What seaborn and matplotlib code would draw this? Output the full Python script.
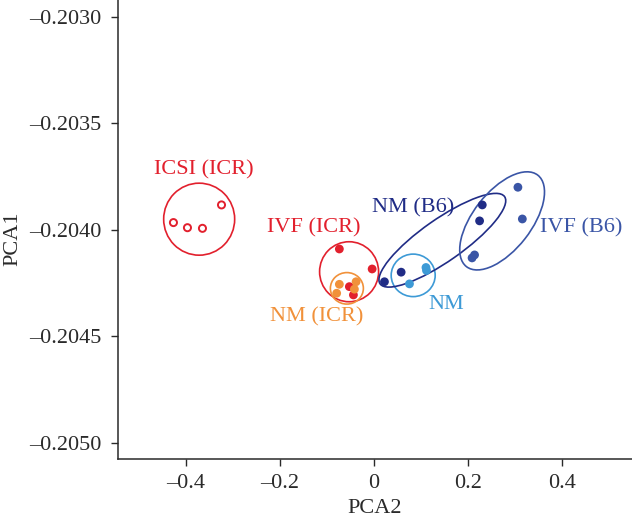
import matplotlib
matplotlib.use("Agg")
import matplotlib.pyplot as plt
import matplotlib.transforms as mtransforms
from matplotlib.patches import Ellipse
import numpy as np
import pandas as pd
import seaborn as sns

# PCA scores (PCA2 on x, PCA1 on y)
icsi_icr_x = [-0.4261, -0.3963, -0.3644, -0.3239]
icsi_icr_y = [-0.203966, -0.203990, -0.203993, -0.203883]

ivf_icr_x = [-0.0733, -0.0036, -0.0520, -0.0434]
ivf_icr_y = [-0.204090, -0.204184, -0.204267, -0.204306]

nm_icr_x = [-0.0733, -0.0790, -0.0377, -0.0413]
nm_icr_y = [-0.204256, -0.204298, -0.204244, -0.204279]

nm_b6_x = [0.0226, 0.0581, 0.2306, 0.2249]
nm_b6_y = [-0.204244, -0.204199, -0.203883, -0.203958]

nm_x = [0.1109, 0.1120, 0.0758]
nm_y = [-0.204177, -0.204191, -0.204254]

ivf_b6_x = [0.3064, 0.3158, 0.2089, 0.2142]
ivf_b6_y = [-0.203800, -0.203949, -0.204132, -0.204118]

groups = ["IVF (ICR)", "NM (ICR)", "NM (B6)", "NM", "IVF (B6)"]
colors = {
    "ICSI (ICR)": "#e2202d",
    "IVF (ICR)": "#e2202d",
    "NM (ICR)": "#f1913a",
    "NM (B6)": "#202c86",
    "NM": "#3d9ad6",
    "IVF (B6)": "#3a55a6",
}

# group ellipses: centre (data), width/height in pixels, angle in degrees
ell_group = ["ICSI (ICR)", "IVF (ICR)", "NM (ICR)", "NM", "NM (B6)", "IVF (B6)"]
ell_x = [-0.3714, -0.0526, -0.0573, 0.0837, 0.1457, 0.2728]
ell_y = [-0.203950, -0.204197, -0.204275, -0.204214, -0.204049, -0.203958]
ell_w = [71, 59, 33, 44, 152, 116]
ell_h = [72, 60, 31.5, 42.5, 42, 58]
ell_ang = [0, 0, 0, 0, 35, 52]

# group labels
lab_text = ["ICSI (ICR)", "IVF (ICR)", "NM (ICR)", "NM (B6)", "IVF (B6)", "NM"]
lab_x = [-0.3616, -0.1286, -0.1222, 0.0828, 0.4400, 0.1540]
lab_y = [-0.203719, -0.203991, -0.204409, -0.203897, -0.203991, -0.204353]

xticks = [-0.4, -0.2, 0, 0.2, 0.4]
xticklabels = ["\u20130.4", "\u20130.2", "0", "0.2", "0.4"]
yticks = [-0.2050, -0.2045, -0.2040, -0.2035, -0.2030]

df = pd.DataFrame({
    "PCA2": ivf_icr_x + nm_icr_x + nm_b6_x + nm_x + ivf_b6_x,
    "PCA1": ivf_icr_y + nm_icr_y + nm_b6_y + nm_y + ivf_b6_y,
    "group": (["IVF (ICR)"] * len(ivf_icr_x) + ["NM (ICR)"] * len(nm_icr_x)
              + ["NM (B6)"] * len(nm_b6_x) + ["NM"] * len(nm_x)
              + ["IVF (B6)"] * len(ivf_b6_x)),
})

sns.set_style("ticks")
plt.rcParams["font.family"] = ["Liberation Serif", "DejaVu Serif"]
plt.rcParams["font.size"] = 16

fig = plt.figure(figsize=(6.32, 5.19), dpi=100)
ax = fig.add_axes([118 / 632, 60 / 519, 514 / 632, 459 / 519])

ax.set_xlim(-0.544, 0.549)
ax.set_ylim(-0.205077, -0.20292)

sns.scatterplot(data=df, x="PCA2", y="PCA1", hue="group", hue_order=groups,
                palette=colors, s=40, linewidth=0, legend=False, ax=ax,
                zorder=3)
sns.scatterplot(x=icsi_icr_x, y=icsi_icr_y, color=colors["ICSI (ICR)"],
                facecolor="none", edgecolor=colors["ICSI (ICR)"], s=26,
                linewidth=1.4, ax=ax, zorder=3)

for g, xc, yc, w, h, a in zip(ell_group, ell_x, ell_y, ell_w, ell_h, ell_ang):
    tr = fig.dpi_scale_trans + mtransforms.ScaledTranslation(xc, yc, ax.transData)
    ax.add_patch(Ellipse((0, 0), w / 100, h / 100, angle=a, transform=tr,
                         fill=False, edgecolor=colors[g], linewidth=1.2,
                         zorder=2))

for t, xc, yc in zip(lab_text, lab_x, lab_y):
    ax.text(xc, yc, t, color=colors[t], fontsize=16, ha="center",
            va="center")

ax.set_xticks(xticks, xticklabels)
ax.set_yticks(yticks, [f"{v:.4f}".replace("-", "\u2013") for v in yticks])
ax.tick_params(length=5, width=1, colors="#2a2a2a", labelcolor="#2a2a2a",
               labelsize=16)
ax.tick_params(axis="y", pad=7)
ax.tick_params(axis="x", pad=6)
for side in ["left", "bottom"]:
    ax.spines[side].set_color("#2a2a2a")
    ax.spines[side].set_linewidth(1.1)
sns.despine(ax=ax)

ax.set_xlabel("PCA2", fontsize=16, color="#2a2a2a")
ax.set_ylabel("PCA1", fontsize=16, color="#2a2a2a")
ax.xaxis.set_label_coords(0.5, -0.087)
ax.yaxis.set_label_coords(-0.187, 0.48)

fig.savefig("out.png", dpi=100)
